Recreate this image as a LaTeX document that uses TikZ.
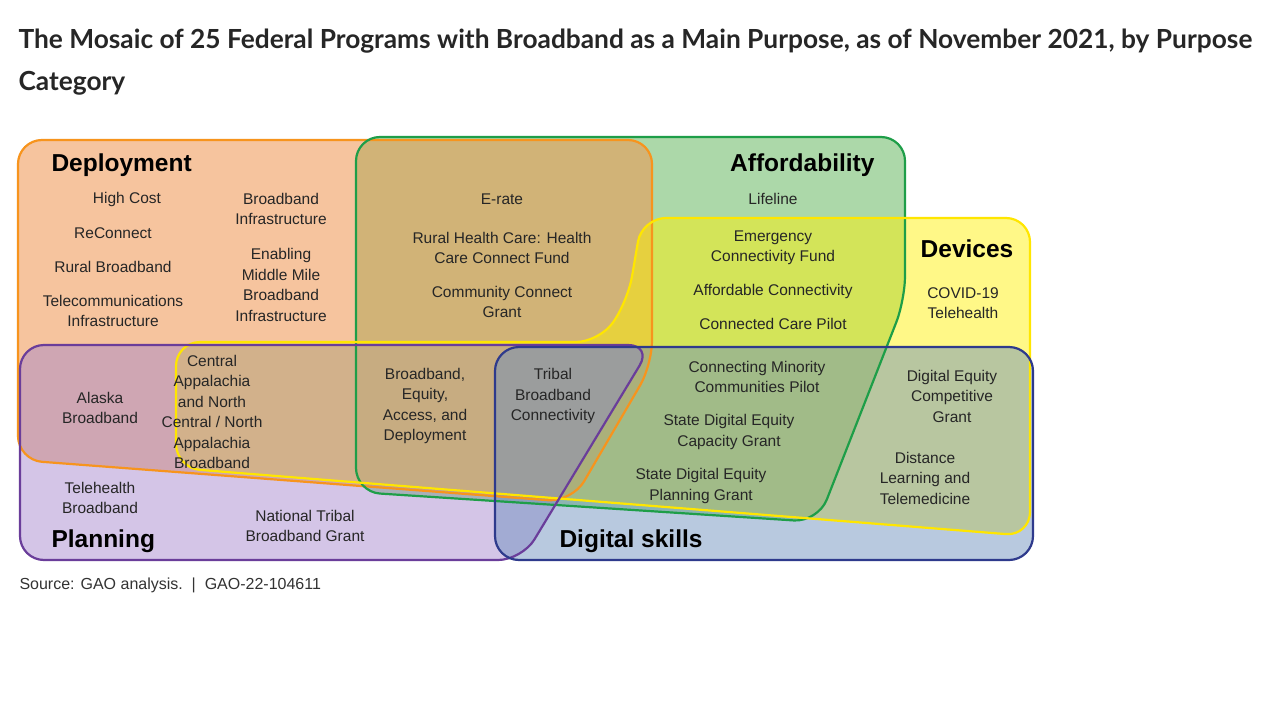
\documentclass[tikz,border=0pt]{standalone}
\usepackage{fontspec}
\setmainfont{Liberation Sans}
\newfontfamily\titlefont{Lato}
\definecolor{depline}{HTML}{F7941D}
\definecolor{depfill}{HTML}{F0954F}
\definecolor{affline}{HTML}{1E9E48}
\definecolor{afffill}{HTML}{4FAE4A}
\definecolor{devline}{HTML}{FFE600}
\definecolor{devfill}{HTML}{FFF200}
\definecolor{planline}{HTML}{6A3D9A}
\definecolor{planfill}{HTML}{A585CC}
\definecolor{skillline}{HTML}{2E3A8C}
\definecolor{skillfill}{HTML}{6A8EBD}
\def\deppath{(18,140) -- (652,140) -- (652,365) -- (572,502) -- (18,460) -- cycle}
\def\affpath{(356,137) -- (905,137) -- (905,300) -- (818,522) -- (356,492) -- cycle}
\def\devpath{(176,342) -- (600,342) -- (628,300) -- (642,218) -- (1030,218) -- (1030,536) -- (176,468) -- cycle}
\def\planpath{(20,345) -- (652,345) -- (522,560) -- (20,560) -- cycle}
\def\skillpath{(495,347) rectangle (1033,560)}
\tikzset{
  prog/.style={align=center, font=\fontsize{15.5}{20.5}\selectfont, text=black!85},
  cat/.style={font=\fontsize{24.5}{28}\selectfont\bfseries},
  region/.style={rounded corners=24pt, fill opacity=0.47},
  rim/.style={rounded corners=24pt, line width=2.2pt}
}
\begin{document}
\begin{tikzpicture}[x=1pt,y=-1pt]
\useasboundingbox[fill=white] (0,0) rectangle (1280,720);
% title
\node[anchor=west,font=\titlefont\fontsize{26.3}{30}\selectfont\bfseries,text=black!85] (title1) at (15,41) {The Mosaic of 25 Federal Programs with Broadband as a Main Purpose, as of November 2021, by Purpose};
\node[anchor=west,font=\titlefont\fontsize{26.3}{30}\selectfont\bfseries,text=black!85] (title2) at (15,83) {Category};
% regions
\fill[region,afffill] \affpath;
\fill[region,depfill,fill opacity=0.55] \deppath;
\fill[region,devfill] \devpath;
\fill[region,planfill] \planpath;
\fill[region,skillfill] \skillpath;
\draw[rim,depline] \deppath;
\draw[rim,affline] \affpath;
\draw[rim,devline] \devpath;
\draw[rim,planline] \planpath;
\draw[rim,skillline] \skillpath;
% categories
\node[cat,anchor=west] (deployment) at (48,165) {Deployment};
\node[cat,anchor=east] (affordability) at (878,165) {Affordability};
\node[cat] (devices) at (967,249) {Devices};
\node[cat,anchor=west] (planning) at (48,541) {Planning};
\node[cat,anchor=west] (skills) at (556,541) {Digital skills};
% programs
\node[prog] (highcost) at (127,199) {High Cost};
\node[prog] (reconnect) at (113,233) {ReConnect};
\node[prog] (rural) at (113,267) {Rural Broadband};
\node[prog] (telecom) at (113,311) {Telecommunications\\Infrastructure};
\node[prog] (bbinfra) at (281,209) {Broadband\\Infrastructure};
\node[prog] (middle) at (281,285) {Enabling\\Middle Mile\\Broadband\\Infrastructure};
\node[prog] (erate) at (502,199) {E-rate};
\node[prog] (rhc) at (502,248) {Rural Health Care: Health\\Care Connect Fund};
\node[prog] (community) at (502,302) {Community Connect\\Grant};
\node[prog] (lifeline) at (773,199) {Lifeline};
\node[prog] (ecf) at (773,248) {Emergency\\Connectivity Fund};
\node[prog] (acp) at (773,291) {Affordable Connectivity};
\node[prog] (ccp) at (773,324) {Connected Care Pilot};
\node[prog] (covid) at (963,303) {COVID-19\\Telehealth};
\node[prog] (alaska) at (100,408) {Alaska\\Broadband};
\node[prog] (appalachia) at (212,412) {Central\\Appalachia\\and North\\Central / North\\Appalachia\\Broadband};
\node[prog] (bead) at (425,406) {Broadband,\\Equity,\\Access, and\\Deployment};
\node[prog] (tribal) at (553,396) {Tribal\\Broadband\\Connectivity};
\node[prog] (minority) at (757,377) {Connecting Minority\\Communities Pilot};
\node[prog] (capacity) at (729,432) {State Digital Equity\\Capacity Grant};
\node[prog] (planninggrant) at (701,486) {State Digital Equity\\Planning Grant};
\node[prog] (competitive) at (952,396) {Digital Equity\\Competitive\\Grant};
\node[prog] (distance) at (925,478) {Distance\\Learning and\\Telemedicine};
\node[prog] (telehealth) at (100,498) {Telehealth\\Broadband};
\node[prog] (ntbg) at (305,526) {National Tribal\\Broadband Grant};
% source
\node[anchor=west,font=\fontsize{16}{18}\selectfont,text=black!80] (source) at (16,585) {Source: GAO analysis.\ \ |\ \ GAO-22-104611};
\end{tikzpicture}
\end{document}
